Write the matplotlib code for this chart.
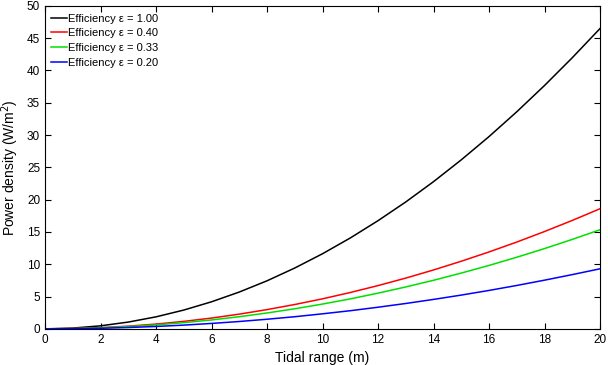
import matplotlib
matplotlib.use("Agg")
import matplotlib.pyplot as plt

plt.rcParams["font.family"] = ["Liberation Sans", "DejaVu Sans"]

tidal_range = list(range(0, 21))
labels = [
    "Efficiency \u03b5 = 1.00",
    "Efficiency \u03b5 = 0.40",
    "Efficiency \u03b5 = 0.33",
    "Efficiency \u03b5 = 0.20",
]
colors = ["black", "#ff0000", "#00e000", "#0000ff"]

power_100 = [0, 0.12, 0.47, 1.05, 1.86, 2.91, 4.19, 5.70, 7.44, 9.42, 11.63,
             14.07, 16.75, 19.65, 22.79, 26.17, 29.77, 33.61, 37.68, 41.98, 46.5]
power_040 = [0, 0.05, 0.19, 0.42, 0.74, 1.16, 1.67, 2.28, 2.98, 3.77, 4.65,
             5.63, 6.70, 7.86, 9.12, 10.47, 11.91, 13.44, 15.07, 16.79, 18.6]
power_033 = [0, 0.04, 0.15, 0.35, 0.61, 0.96, 1.38, 1.88, 2.46, 3.11, 3.84,
             4.64, 5.53, 6.49, 7.52, 8.64, 9.82, 11.09, 12.43, 13.85, 15.35]
power_020 = [0, 0.02, 0.09, 0.21, 0.37, 0.58, 0.84, 1.14, 1.49, 1.88, 2.33,
             2.81, 3.35, 3.93, 4.56, 5.23, 5.95, 6.72, 7.54, 8.40, 9.30]

fig = plt.figure(figsize=(6.08, 3.65), dpi=100)
ax = fig.add_axes([0.074, 0.099, 0.913, 0.885])

for values, label, color in zip([power_100, power_040, power_033, power_020], labels, colors):
    ax.plot(tidal_range, values, color=color, linewidth=1.1, label=label)

ax.set_xlim(0, 20)
ax.set_ylim(0, 50)
ax.set_xticks(range(0, 21, 2))
ax.set_yticks(range(0, 51, 5))
ax.tick_params(direction="in", top=True, right=True, labelsize=8.5, length=4)
ax.set_xlabel("Tidal range (m)", fontsize=10)
ax.set_ylabel("Power density (W/m$^2$)", fontsize=10)

ax.legend(loc="upper left", bbox_to_anchor=(-0.004, 1.0), frameon=False, fontsize=8,
          handlelength=1.45, handletextpad=0.1, labelspacing=0.42, borderaxespad=0.3)

fig.savefig("out.png", dpi=100)
